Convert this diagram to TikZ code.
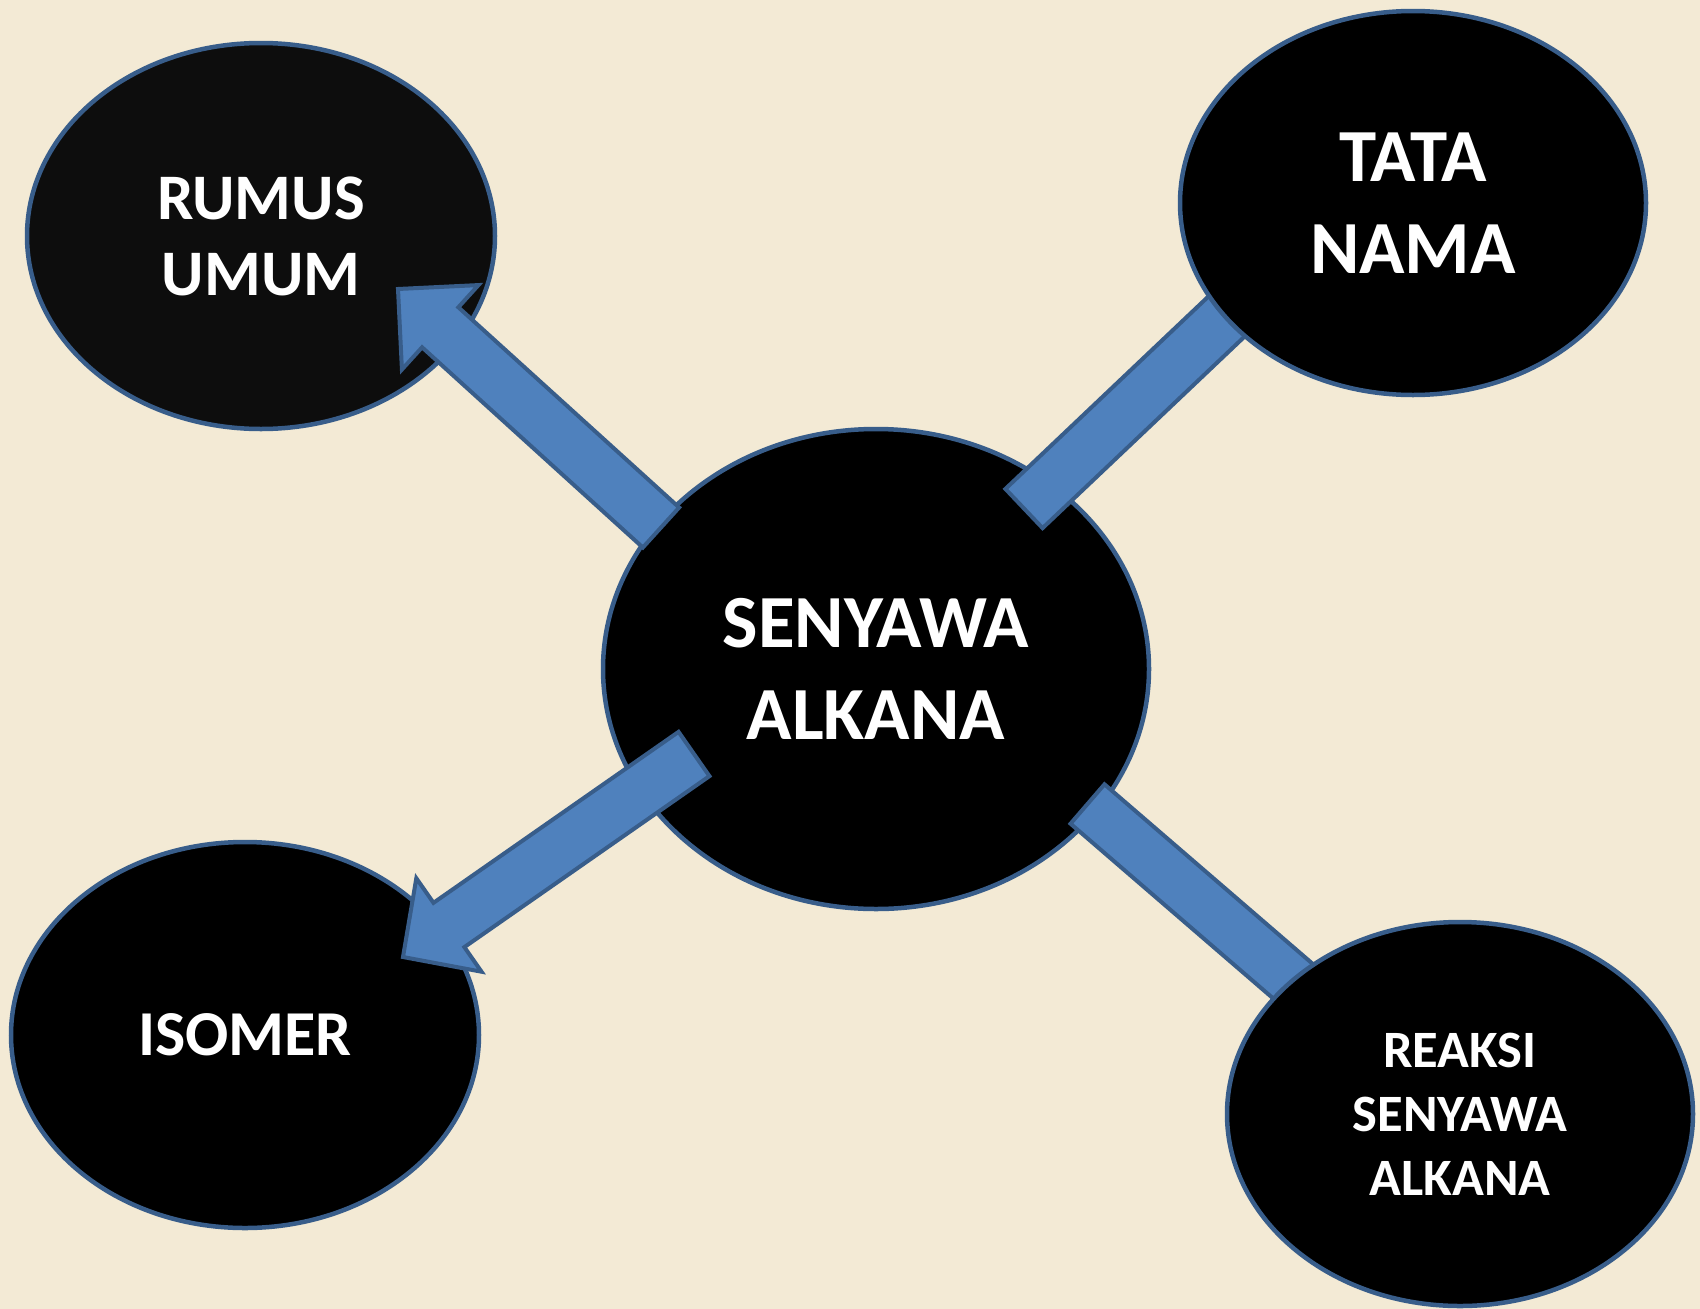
\documentclass[tikz,border=0pt]{standalone}
\usepackage{fontspec}
\setmainfont{Carlito}
\usepackage{tikz}
\usetikzlibrary{calc, shapes.geometric}

\definecolor{paper}{RGB}{243,234,213}
\definecolor{rimblue}{RGB}{56,93,138}
\definecolor{arrowblue}{RGB}{79,129,189}
\definecolor{nearblack}{RGB}{13,13,13}

\tikzset{
  topic/.style={ellipse, draw=rimblue, line width=4.5, fill=black, text=white,
    align=center, inner sep=0},
  blockarrow/.style={fill=arrowblue, draw=rimblue, line width=4, line join=miter},
}

\pgfdeclarelayer{front}
\pgfsetlayers{main,front}

\begin{document}
\begin{tikzpicture}[x=1pt, y=-1pt]
        \fill[paper] (0,0) rectangle (1700,1309);
        \useasboundingbox (0,0) rectangle (1700,1309);

        \node[topic, minimum width=546, minimum height=480,
            font=\bfseries\fontsize{75}{92}\selectfont] (alkana) at (876,669) {SENYAWA\\ALKANA};
        \node[topic, fill=nearblack, minimum width=468, minimum height=386,
            font=\bfseries\fontsize{65}{76}\selectfont] (rumus) at (261,236) {RUMUS\\UMUM};
        \node[topic, minimum width=468, minimum height=386,
            font=\bfseries\fontsize{64}{76}\selectfont] (isomer) at (245,1035) {ISOMER};
        % these two lie over the ends of their bars
        \begin{pgfonlayer}{front}
        \node[topic, minimum width=466, minimum height=384,
            font=\bfseries\fontsize{75}{92}\selectfont] (tata) at (1413,203) {TATA\\NAMA};
        \node[topic, minimum width=466, minimum height=384,
            font=\bfseries\fontsize{52.5}{64}\selectfont] (reaksi) at (1460,1114) {REAKSI\\SENYAWA\\ALKANA};
        \end{pgfonlayer}

        \coordinate (t1) at ($(alkana)+(-215,-141.5)$);
        \coordinate (p1) at ($(rumus)+(137,53)$);
        \coordinate (h1) at ($(p1)!57pt!(t1)$);
        \draw[blockarrow] ($(t1)!27pt!90:(p1)$) -- ($(h1)!27pt!90:(p1)$) -- ($(h1)!57pt!90:(p1)$)
            -- (p1) -- ($(h1)!57pt!-90:(p1)$) -- ($(h1)!27pt!-90:(p1)$) -- ($(t1)!27pt!-90:(p1)$) -- cycle;

        \coordinate (t4) at ($(alkana)+(-182,85)$);
        \coordinate (p4) at ($(isomer)+(158,-78)$);
        \coordinate (h4) at ($(p4)!56pt!(t4)$);
        \draw[blockarrow] ($(t4)!27pt!90:(p4)$) -- ($(h4)!27pt!90:(p4)$) -- ($(h4)!57pt!90:(p4)$)
            -- (p4) -- ($(h4)!57pt!-90:(p4)$) -- ($(h4)!27pt!-90:(p4)$) -- ($(t4)!27pt!-90:(p4)$) -- cycle;

        \coordinate (t2) at ($(alkana)+(148,-160.5)$);
        \coordinate (e2) at ($(tata)+(-173,100.7)$);
        \draw[blockarrow] ($(t2)!27pt!90:(e2)$) -- ($(t2)!27pt!-90:(e2)$)
            -- ($(e2)!27pt!90:(t2)$) -- ($(e2)!27pt!-90:(t2)$) -- cycle;

        \coordinate (t3) at ($(alkana)+(211.5,135)$);
        \coordinate (e3) at ($(reaksi)+(-151,-119)$);
        \draw[blockarrow] ($(t3)!26pt!90:(e3)$) -- ($(t3)!26pt!-90:(e3)$)
            -- ($(e3)!26pt!90:(t3)$) -- ($(e3)!26pt!-90:(t3)$) -- cycle;
\end{tikzpicture}
\end{document}
